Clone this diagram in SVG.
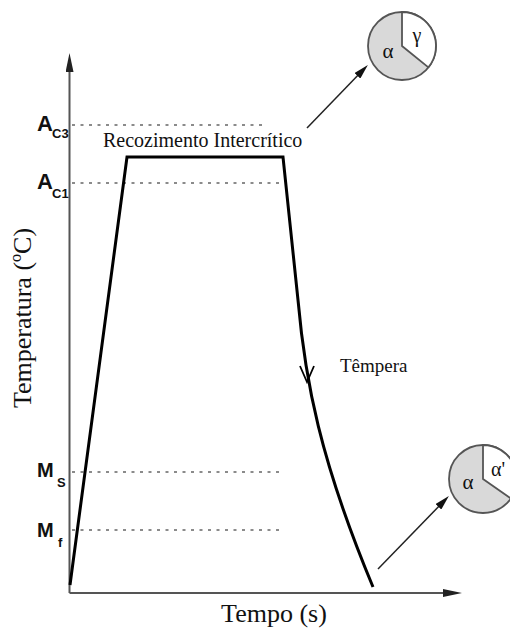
<svg xmlns="http://www.w3.org/2000/svg" width="510" height="628" viewBox="0 0 510 628">
<style>
.axis{stroke:#555;stroke-width:2;fill:none}
.dot{stroke:#666;stroke-width:1.5;stroke-dasharray:3 5.5;fill:none}
.curve{stroke:#000;stroke-width:3;fill:none;stroke-linejoin:miter}
.ann{stroke:#222;stroke-width:1.5;fill:none}
.lbl{font-family:"Liberation Sans",Arial,sans-serif;font-weight:bold;fill:#111}
.serif{font-family:"Liberation Serif","Times New Roman",serif;fill:#111}
.pie{fill:#d9d9d9;stroke:#555;stroke-width:1.8}
.sector{fill:#fff;stroke:#555;stroke-width:1.8;stroke-linejoin:round}
</style>
<defs>
<marker id="axHead" viewBox="0 0 19 8" refX="10" refY="4" markerWidth="19" markerHeight="8" markerUnits="userSpaceOnUse" orient="auto">
<path d="M0,0 L19,4 L0,8 z" fill="#222"/>
</marker>
<marker id="annHead" viewBox="0 0 15 8" refX="8" refY="4" markerWidth="15" markerHeight="8" markerUnits="userSpaceOnUse" orient="auto">
<path d="M0,0 L15,4 L0,8 z" fill="#111"/>
</marker>
</defs>
<rect width="510" height="628" fill="#fff"/>
<g id="axes">
<line class="axis" x1="69.5" y1="593" x2="69.5" y2="62" marker-end="url(#axHead)"/>
<line class="axis" x1="69.5" y1="593" x2="453" y2="593" marker-end="url(#axHead)"/>
</g>
<g id="reference-lines">
<line class="dot" x1="72" y1="125" x2="264" y2="125"/>
<line class="dot" x1="72" y1="183" x2="281" y2="183"/>
<line class="dot" x1="72" y1="472" x2="282" y2="472"/>
<line class="dot" x1="72" y1="530" x2="282" y2="530"/>
</g>
<g id="axis-labels">
<text class="lbl" x="37" y="131" font-size="22">A</text>
<text class="lbl" x="52" y="138" font-size="13">C3</text>
<text class="lbl" x="37" y="189" font-size="22">A</text>
<text class="lbl" x="52" y="198" font-size="13">C1</text>
<text class="lbl" x="37" y="477" font-size="20">M</text>
<text class="lbl" x="57" y="487" font-size="13">S</text>
<text class="lbl" x="37" y="537" font-size="20">M</text>
<text class="lbl" x="58" y="547" font-size="13">f</text>
<text class="serif" font-size="26" text-anchor="middle" transform="translate(31,318) rotate(-90)">Temperatura (ºC)</text>
<text class="serif" x="274" y="622" font-size="26" text-anchor="middle">Tempo (s)</text>
</g>
<g id="treatment-curve">
<path class="curve" d="M70,585 L127,157 L283,157 L298,300 C305,380 320,460 373,587"/>
<polyline points="300,366 307,382 314,366" fill="none" stroke="#000" stroke-width="1.8"/>
<text class="serif" x="103" y="147" font-size="20">Recozimento Intercrítico</text>
<text class="serif" x="340" y="372" font-size="19">Têmpera</text>
</g>
<g id="connectors">
<line class="ann" x1="307" y1="128" x2="363" y2="70" marker-end="url(#annHead)"/>
<line class="ann" x1="378" y1="569" x2="444" y2="501" marker-end="url(#annHead)"/>
</g>
<g id="node-intercritical">
<circle class="pie" cx="402" cy="46" r="34"/>
<path class="sector" d="M402,46 L402,12 A34,34 0 0,1 428.4,67.4 Z"/>
<text class="serif" x="388" y="58" font-size="21" text-anchor="middle">α</text>
<text class="serif" x="417" y="42" font-size="20" text-anchor="middle">γ</text>
</g>
<g id="node-quenched">
<circle class="pie" cx="483" cy="479" r="34"/>
<path class="sector" d="M483,479 L483,445 A34,34 0 0,1 510.9,498.5 Z"/>
<text class="serif" x="468" y="489" font-size="21" text-anchor="middle">α</text>
<text class="serif" x="498" y="476" font-size="20" text-anchor="middle">α'</text>
</g>
</svg>
